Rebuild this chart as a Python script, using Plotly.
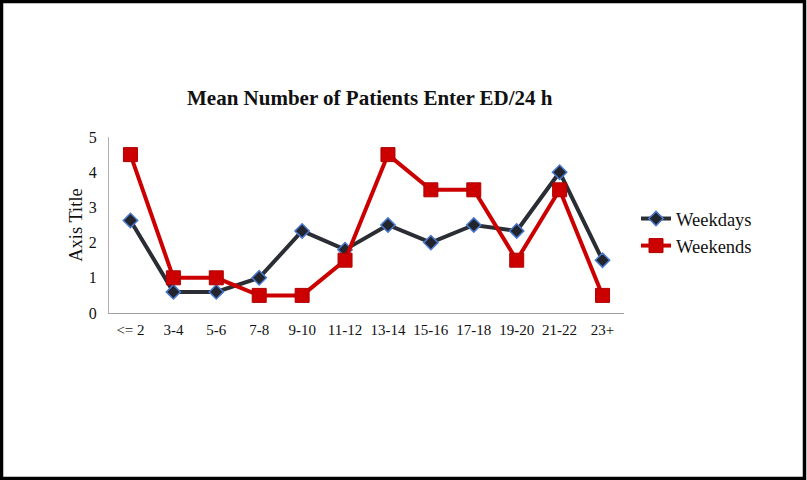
import plotly.graph_objects as go

categories = ["<= 2", "3-4", "5-6", "7-8", "9-10", "11-12", "13-14", "15-16", "17-18", "19-20", "21-22", "23+"]
weekdays = [2.63, 0.6, 0.6, 1.0, 2.33, 1.8, 2.5, 2.0, 2.5, 2.33, 4.0, 1.5]
weekends = [4.5, 1.0, 1.0, 0.5, 0.5, 1.5, 4.5, 3.5, 3.5, 1.5, 3.5, 0.5]
title_text = "Mean Number of Patients Enter ED/24 h"
y_ticks = [0, 1, 2, 3, 4, 5]

W, H = 807, 480
L, R, T, B = 109, 183, 137, 167
pw, ph = W - L - R, H - T - B

fig = go.Figure()
fig.add_trace(go.Scatter(
    x=categories, y=weekdays, name="Weekdays", mode="lines+markers",
    line=dict(color="#2b2d34", width=4),
    marker=dict(symbol="diamond", size=11, color="#23252c",
                line=dict(color="#4a78d0", width=1.5)),
))
fig.add_trace(go.Scatter(
    x=categories, y=weekends, name="Weekends", mode="lines+markers",
    line=dict(color="#cc0000", width=4),
    marker=dict(symbol="square", size=14, color="#cc0000",
                line=dict(color="#b00000", width=1)),
))

serif = "Liberation Serif, DejaVu Serif, serif"

def px_x(p):
    return (p - L) / pw

def px_y(p):
    return (H - B - p) / ph

fig.update_layout(
    width=W, height=H,
    margin=dict(l=L, r=R, t=T, b=B),
    paper_bgcolor="white", plot_bgcolor="white",
    showlegend=True,
    legend=dict(x=px_x(636), y=px_y(200), xanchor="left", yanchor="top",
                font=dict(family=serif, size=18.5, color="#111"),
                bgcolor="rgba(0,0,0,0)", tracegroupgap=0, itemwidth=30),
    annotations=[dict(text="<b>" + title_text + "</b>", x=px_x(370), y=px_y(98),
                      xref="paper", yref="paper", showarrow=False,
                      xanchor="center", yanchor="middle",
                      font=dict(family=serif, size=21, color="#111"))],
    xaxis=dict(type="category", categoryorder="array", categoryarray=categories,
               showgrid=False, showline=True, linecolor="#a0a0a0", linewidth=1,
               ticks="", tickfont=dict(family=serif, size=15, color="#111"),
               ticklabelstandoff=3,
               range=[-0.5, len(categories) - 0.5], zeroline=False, fixedrange=True),
    yaxis=dict(range=[0, 5], tickvals=y_ticks, showgrid=False, showline=True,
               linecolor="#b0b0b0", linewidth=1, ticks="", zeroline=False,
               tickfont=dict(family=serif, size=16, color="#111"),
               ticklabelstandoff=8,
               title=dict(text="Axis Title", font=dict(family=serif, size=18.5, color="#111"),
                          standoff=1)),
    shapes=[dict(type="rect", xref="paper", yref="paper",
                 x0=px_x(1.5), x1=px_x(804.5), y0=px_y(1.5), y1=px_y(478.5),
                 line=dict(color="black", width=3.5), fillcolor="rgba(0,0,0,0)", layer="above")],
)

fig.write_html("out.html", config={"displayModeBar": False, "staticPlot": True},
               post_script="document.body.style.margin='0px';document.body.style.overflow='hidden';")
